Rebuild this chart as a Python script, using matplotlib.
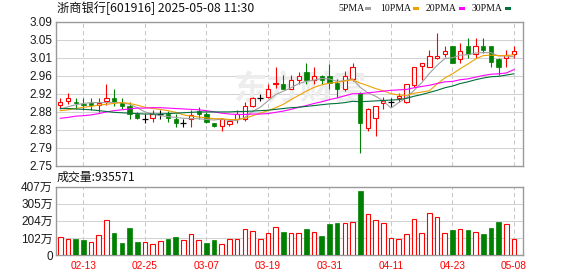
import matplotlib
matplotlib.use('Agg')
import matplotlib.pyplot as plt
from matplotlib.patches import Rectangle
import numpy as np

# daily K-line, 2025-02-10 .. 2025-05-08 (60 sessions)
opens = [2.893, 2.902, 2.900, 2.896, 2.899, 2.893, 2.902, 2.911, 2.899, 2.890,
         2.871, 2.861, 2.862, 2.872, 2.873, 2.860, 2.850, 2.861, 2.880, 2.871,
         2.851, 2.843, 2.848, 2.860, 2.860, 2.891, 2.911, 2.913, 2.944, 2.943,
         2.932, 2.953, 2.971, 2.952, 2.962, 2.962, 2.945, 2.932, 2.954, 2.921,
         2.840, 2.862, 2.899, 2.900, 2.909, 2.901, 2.940, 2.985, 2.984, 3.004,
         3.014, 3.032, 3.003, 3.032, 3.013, 3.032, 3.032, 3.003, 3.004, 3.013]
highs = [2.911, 2.922, 2.911, 2.911, 2.911, 2.911, 2.943, 2.931, 2.911, 2.900,
         2.876, 2.872, 2.882, 2.881, 2.880, 2.871, 2.861, 2.882, 2.888, 2.876,
         2.852, 2.862, 2.861, 2.882, 2.901, 2.913, 2.919, 2.942, 2.982, 2.963,
         2.963, 2.971, 2.993, 2.982, 2.963, 2.990, 2.955, 2.974, 2.993, 2.925,
         2.887, 2.892, 2.913, 2.911, 2.921, 2.942, 2.983, 2.993, 3.023, 3.063,
         3.033, 3.033, 3.040, 3.052, 3.052, 3.052, 3.033, 3.004, 3.023, 3.033]
lows = [2.886, 2.895, 2.885, 2.882, 2.882, 2.877, 2.893, 2.891, 2.885, 2.861,
        2.861, 2.852, 2.853, 2.861, 2.853, 2.842, 2.842, 2.842, 2.861, 2.850,
        2.842, 2.833, 2.843, 2.852, 2.856, 2.889, 2.902, 2.911, 2.933, 2.930,
        2.931, 2.942, 2.942, 2.942, 2.942, 2.932, 2.912, 2.927, 2.951, 2.781,
        2.832, 2.820, 2.883, 2.889, 2.901, 2.899, 2.935, 2.952, 2.983, 3.003,
        3.006, 2.993, 2.992, 3.004, 3.004, 3.015, 2.984, 2.964, 2.984, 3.004]
closes = [2.900, 2.911, 2.898, 2.893, 2.894, 2.898, 2.911, 2.900, 2.892, 2.872,
          2.862, 2.861, 2.871, 2.872, 2.863, 2.852, 2.850, 2.870, 2.872, 2.853,
          2.843, 2.860, 2.856, 2.871, 2.891, 2.911, 2.911, 2.930, 2.946, 2.931,
          2.952, 2.962, 2.953, 2.962, 2.953, 2.946, 2.932, 2.961, 2.982, 2.852,
          2.885, 2.891, 2.903, 2.900, 2.914, 2.942, 2.982, 2.992, 3.010, 3.010,
          3.022, 2.993, 3.022, 3.013, 3.032, 3.023, 2.994, 2.984, 3.011, 3.022]

ma5 = [2.884, 2.889, 2.894, 2.897, 2.899, 2.899, 2.899, 2.899, 2.899, 2.895,
       2.887, 2.877, 2.872, 2.868, 2.866, 2.864, 2.862, 2.861, 2.861, 2.859,
       2.858, 2.860, 2.857, 2.857, 2.864, 2.878, 2.888, 2.903, 2.918, 2.926,
       2.934, 2.944, 2.949, 2.952, 2.956, 2.955, 2.949, 2.951, 2.955, 2.935,
       2.922, 2.914, 2.903, 2.886, 2.899, 2.910, 2.928, 2.946, 2.968, 2.987,
       3.003, 3.005, 3.011, 3.012, 3.016, 3.017, 3.017, 3.009, 3.009, 3.007]
ma10 = [2.880, 2.882, 2.885, 2.888, 2.890, 2.893, 2.895, 2.897, 2.899, 2.897,
        2.893, 2.888, 2.885, 2.883, 2.880, 2.876, 2.870, 2.867, 2.865, 2.863,
        2.861, 2.861, 2.859, 2.859, 2.862, 2.868, 2.874, 2.880, 2.887, 2.895,
        2.906, 2.916, 2.926, 2.935, 2.941, 2.945, 2.947, 2.950, 2.953, 2.945,
        2.939, 2.932, 2.927, 2.920, 2.917, 2.916, 2.921, 2.924, 2.927, 2.943,
        2.957, 2.967, 2.979, 2.990, 3.002, 3.010, 3.011, 3.010, 3.010, 3.012]
ma20 = [2.862, 2.864, 2.867, 2.868, 2.870, 2.873, 2.877, 2.880, 2.882, 2.884,
        2.886, 2.886, 2.887, 2.887, 2.886, 2.885, 2.884, 2.883, 2.882, 2.880,
        2.877, 2.874, 2.872, 2.871, 2.871, 2.872, 2.872, 2.873, 2.876, 2.879,
        2.883, 2.888, 2.892, 2.897, 2.901, 2.906, 2.910, 2.915, 2.920, 2.920,
        2.922, 2.924, 2.926, 2.928, 2.929, 2.930, 2.934, 2.937, 2.940, 2.944,
        2.948, 2.949, 2.953, 2.955, 2.959, 2.963, 2.966, 2.967, 2.969, 2.977]
ma30 = [2.885, 2.885, 2.884, 2.883, 2.882, 2.880, 2.878, 2.876, 2.875, 2.874,
        2.873, 2.872, 2.872, 2.872, 2.873, 2.874, 2.875, 2.876, 2.877, 2.877,
        2.877, 2.877, 2.877, 2.878, 2.878, 2.879, 2.880, 2.881, 2.883, 2.885,
        2.887, 2.888, 2.890, 2.892, 2.894, 2.896, 2.897, 2.899, 2.902, 2.901,
        2.902, 2.903, 2.904, 2.905, 2.906, 2.909, 2.914, 2.918, 2.923, 2.928,
        2.934, 2.938, 2.944, 2.948, 2.953, 2.957, 2.960, 2.961, 2.964, 2.967]

# volume in 万 (10k shares); colour flags
volumes = [107, 95, 95, 89, 75, 119, 208, 131, 71, 161,
           77, 75, 66, 81, 95, 107, 89, 123, 87, 71,
           89, 64, 93, 95, 153, 141, 95, 129, 165, 137,
           129, 129, 155, 135, 113, 185, 191, 189, 197, 381,
           242, 206, 189, 101, 93, 123, 212, 129, 248, 224,
           129, 149, 155, 149, 137, 125, 161, 197, 183, 93.5571]
vol_up = [1, 1, 0, 0, 1, 1, 1, 0, 0, 0,
          0, 1, 1, 1, 0, 0, 1, 1, 1, 0,
          0, 1, 1, 1, 1, 1, 1, 1, 1, 0,
          1, 1, 0, 1, 0, 0, 0, 1, 1, 0,
          1, 1, 1, 1, 1, 1, 1, 1, 1, 1,
          1, 0, 1, 0, 1, 0, 0, 0, 1, 1]

tick_idx = [3, 11, 19, 27, 35, 43, 51, 59]
tick_lbl = ['02-13', '02-25', '03-07', '03-19', '03-31', '04-11', '04-23', '05-08']
price_ticks = ['2.75', '2.79', '2.83', '2.88', '2.92', '2.96', '3.01', '3.05', '3.09']
vol_ticks = ['0', '102万', '204万', '305万', '407万']

RED = '#ff0000'
GREEN = '#008000'
W, H = 578, 276
FONT = ['Liberation Sans', 'Noto Sans CJK SC']
CJK = ['Noto Sans CJK SC', 'DejaVu Sans']

fig = plt.figure(figsize=(W / 100, H / 100), dpi=100)
fig.patch.set_facecolor('white')

def box(x0, y0, x1, y1):
    return [x0 / W, 1 - y1 / H, (x1 - x0) / W, (y1 - y0) / H]

ax = fig.add_axes(box(55.7, 21.7, 522.7, 165.7))
axv = fig.add_axes(box(55.7, 186.7, 522.7, 255))

x = np.arange(len(closes))
o = np.array(opens); c = np.array(closes)
h = np.array(highs); l = np.array(lows)

for a in (ax, axv):
    a.set_xlim(-0.6, 60.13)
    for s in a.spines.values():
        s.set_color('#9a9a9a')
        s.set_linewidth(1.0)
    a.set_axisbelow(True)
    a.set_xticks(tick_idx)
    a.tick_params(length=0, labelsize=8.5, colors='#1a1a1a', pad=2.2)
    a.xaxis.grid(True, color='#c8c8c8', lw=0.75, ls=(0, (4, 3)))
    a.yaxis.grid(True, color='#d2d2d2', lw=0.75)

# price pane
ax.set_ylim(2.75, 3.09)
ax.set_yticks(np.linspace(2.75, 3.09, len(price_ticks)))
ax.set_yticklabels(price_ticks, family=FONT)
ax.set_xticklabels([])

ax.text(300 / W, 1 - 90 / H, '东方财富', transform=fig.transFigure, family=CJK,
        fontsize=24, fontweight='bold', color='#ededed', ha='center', va='center',
        fontstyle='italic', zorder=1)

up = c > o
dn = c < o
doji = c == o
bw = 0.56
wick_col = np.where(up, RED, np.where(dn, GREEN, 'black'))
ax.vlines(x, l, h, colors=wick_col, lw=0.8, zorder=2)
ax.bar(x[up], (c - o)[up], bw, bottom=o[up], facecolor='white',
       edgecolor=RED, lw=0.8, zorder=3)
ax.bar(x[dn], (o - c)[dn], bw, bottom=c[dn], facecolor=GREEN,
       edgecolor=GREEN, lw=0.5, zorder=3)
ax.hlines(c[doji], x[doji] - 0.38, x[doji] + 0.38, colors='black', lw=0.9, zorder=3)

ma_cols = ['#a0a0a0', '#f0a000', '#ff00ff', '#00703c']
for ma, col in zip([ma5, ma10, ma20, ma30], ma_cols):
    ax.plot(x, ma, color=col, lw=0.8, zorder=4)

# volume pane
vup = np.array(vol_up) == 1
v = np.array(volumes)
axv.set_ylim(0, 407)
axv.set_yticks(np.linspace(0, 407, len(vol_ticks)))
axv.set_yticklabels(vol_ticks, family=FONT)
axv.bar(x[vup], v[vup], 0.6, facecolor='white', edgecolor=RED, lw=0.8, zorder=3)
axv.bar(x[~vup], v[~vup], 0.6, facecolor=GREEN, edgecolor=GREEN, lw=0.5, zorder=3)
axv.set_xticklabels(tick_lbl, family=FONT, fontsize=7.3, color=RED)
axv.tick_params(axis='x', pad=4)

# header texts
fig.text(57 / W, 1 - 8.5 / H, '浙商银行[601916] 2025-05-08 11:30', family=CJK,
         fontsize=8.8, color='#111111', va='center', ha='left')
fig.text(57 / W, 1 - 177.5 / H, '成交量:935571', family=CJK,
         fontsize=8.6, color='#111111', va='center', ha='left')

legend = [('5PMA', 338.3, 365.3), ('10PMA', 380.0, 413.3),
          ('20PMA', 426.0, 459.3), ('30PMA', 471.7, 505.0)]
for (name, tx, mx), col in zip(legend, ma_cols):
    fig.text(tx / W, 1 - 8.5 / H, name, family=['Liberation Serif'], fontsize=7,
             color='#111111', va='center', ha='left')
    fig.add_artist(Rectangle((mx / W, 1 - 10 / H), 5.5 / W, 3 / H,
                             transform=fig.transFigure, color=col, lw=0))

fig.savefig('out.png', dpi=100)
